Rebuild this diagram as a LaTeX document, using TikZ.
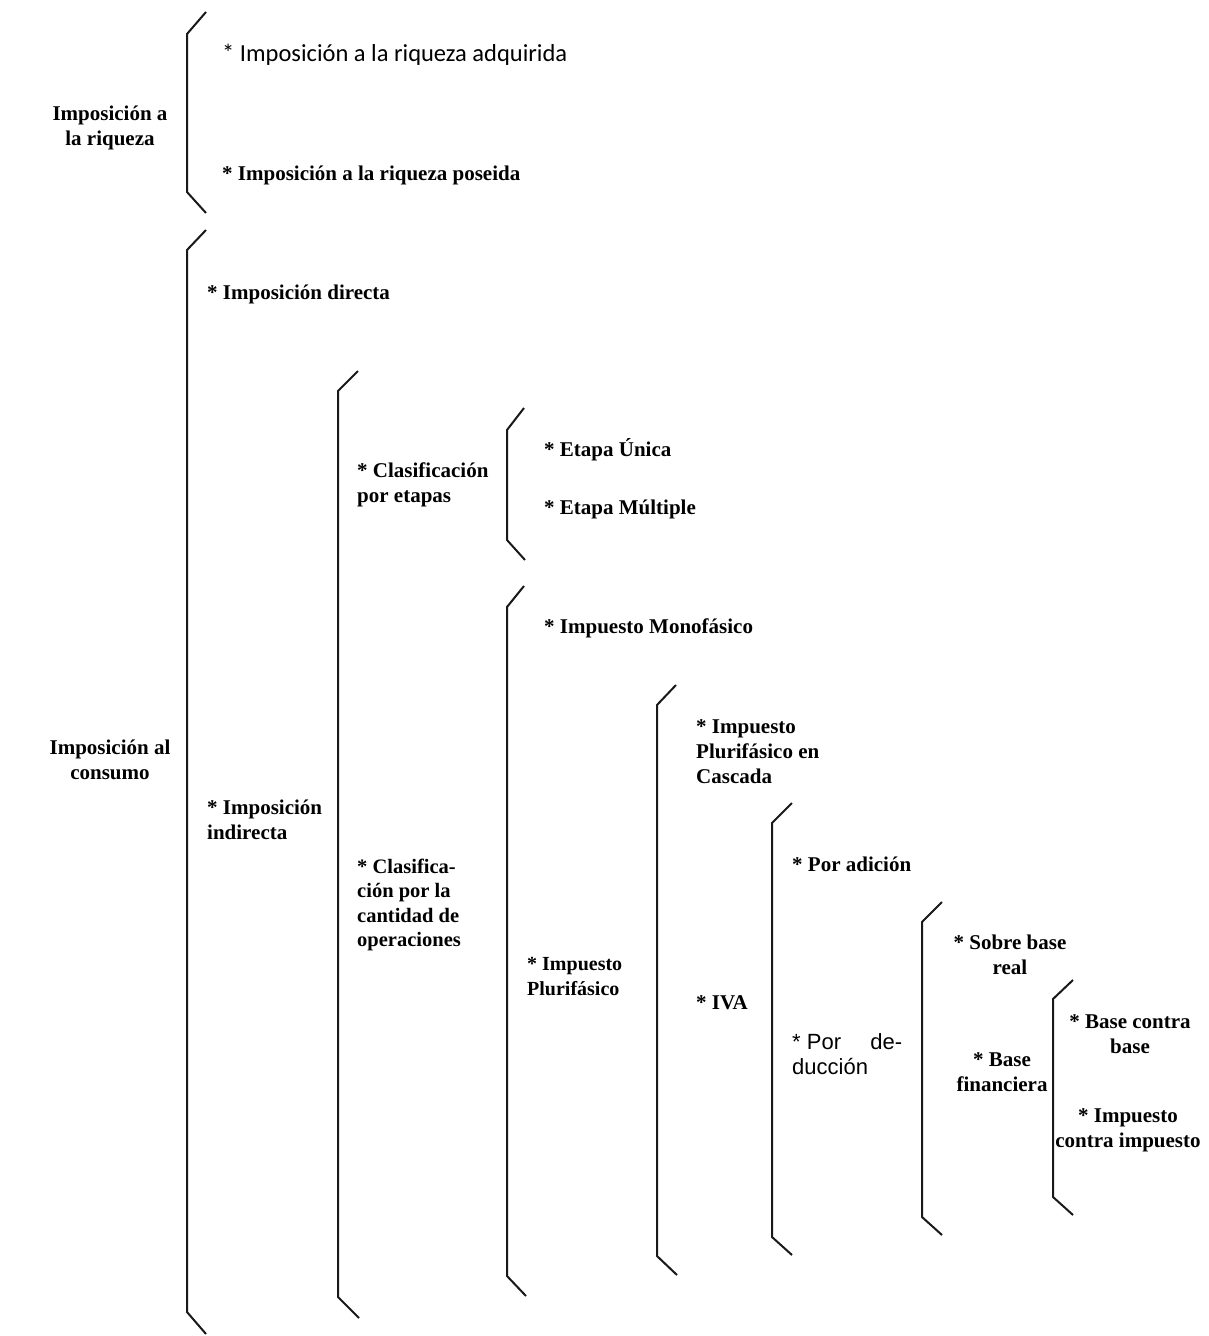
\documentclass[tikz,border=0pt]{standalone}
\usepackage{fontspec}
\setmainfont{Liberation Serif}
\newfontfamily\sansA{Carlito}
\newfontfamily\arialf{Liberation Sans}
\begin{document}
\begin{tikzpicture}[x=1pt,y=-1pt,
  lbl/.style={anchor=west,inner sep=0pt,align=left,font=\bfseries\fontsize{21}{25}\selectfont},
  clbl/.style={anchor=center,inner sep=0pt,align=center,font=\bfseries\fontsize{21}{25}\selectfont},
  brace/.style={draw=black!90,line width=2pt,line join=miter}]
\path[use as bounding box,fill=white] (0,0) rectangle (1208,1336);

% braces
\draw[brace] (206,12) -- (187,34) -- (187,192) -- (206,213);
\draw[brace] (206,230) -- (187,250) -- (187,1312) -- (206,1334);
\draw[brace] (358,371) -- (338,391) -- (338,1297) -- (359,1318);
\draw[brace] (524,408) -- (507,430) -- (507,540) -- (525,560);
\draw[brace] (524,586) -- (507,607) -- (507,1276) -- (526,1296);
\draw[brace] (676,685) -- (657,705) -- (657,1256) -- (677,1275);
\draw[brace] (792,803) -- (772,823) -- (772,1237) -- (792,1255);
\draw[brace] (942,902) -- (922,922) -- (922,1217) -- (942,1235);
\draw[brace] (1073,980) -- (1053,999) -- (1053,1197) -- (1073,1215);

% labels
\node[clbl] (riq) at (110,128) {Imposición a\\la riqueza};
\node[lbl,font=\sansA\fontsize{24.5}{25}\selectfont] (riqA) at (222,55) {* Imposición a la riqueza adquirida};
\node[lbl] (riqP) at (222,175) {* Imposición a la riqueza poseida};

\node[clbl] (cons) at (110,760) {Imposición al\\consumo};
\node[lbl] (dir) at (207,294) {* Imposición directa};
\node[lbl] (ind) at (207,820) {* Imposición\\indirecta};

\node[lbl] (etapas) at (357,485) {* Clasificación\\por etapas};
\node[lbl,font=\bfseries\fontsize{20.5}{24.5}\selectfont] (cant) at (357,905) {* Clasifica-\\ción por la\\cantidad de\\operaciones};

\node[lbl] (unica) at (544,450) {* Etapa Única};
\node[lbl] (mult) at (544,509) {* Etapa Múltiple};
\node[lbl] (mono) at (544,628) {* Impuesto Monofásico};
\node[lbl,font=\bfseries\fontsize{20}{25}\selectfont] (pluri) at (527,977) {* Impuesto\\Plurifásico};

\node[lbl] (casc) at (696,752) {* Impuesto\\Plurifásico en\\Cascada};
\node[lbl] (iva) at (696,1003) {* IVA};

\node[lbl] (adic) at (792,864) {* Por adición};
\node[lbl,font=\arialf\fontsize{22}{25}\selectfont] (deduc) at (792,1054) {\makebox[110pt][s]{* Por\hfill de-}\\ducción};

\node[clbl] (sobre) at (1010,955) {* Sobre base\\real};
\node[clbl] (finan) at (1002,1072) {* Base\\financiera};

\node[clbl] (bcb) at (1130,1034) {* Base contra\\base};
\node[clbl] (ici) at (1128,1130) {* Impuesto\\contra impuesto};
\end{tikzpicture}
\end{document}
